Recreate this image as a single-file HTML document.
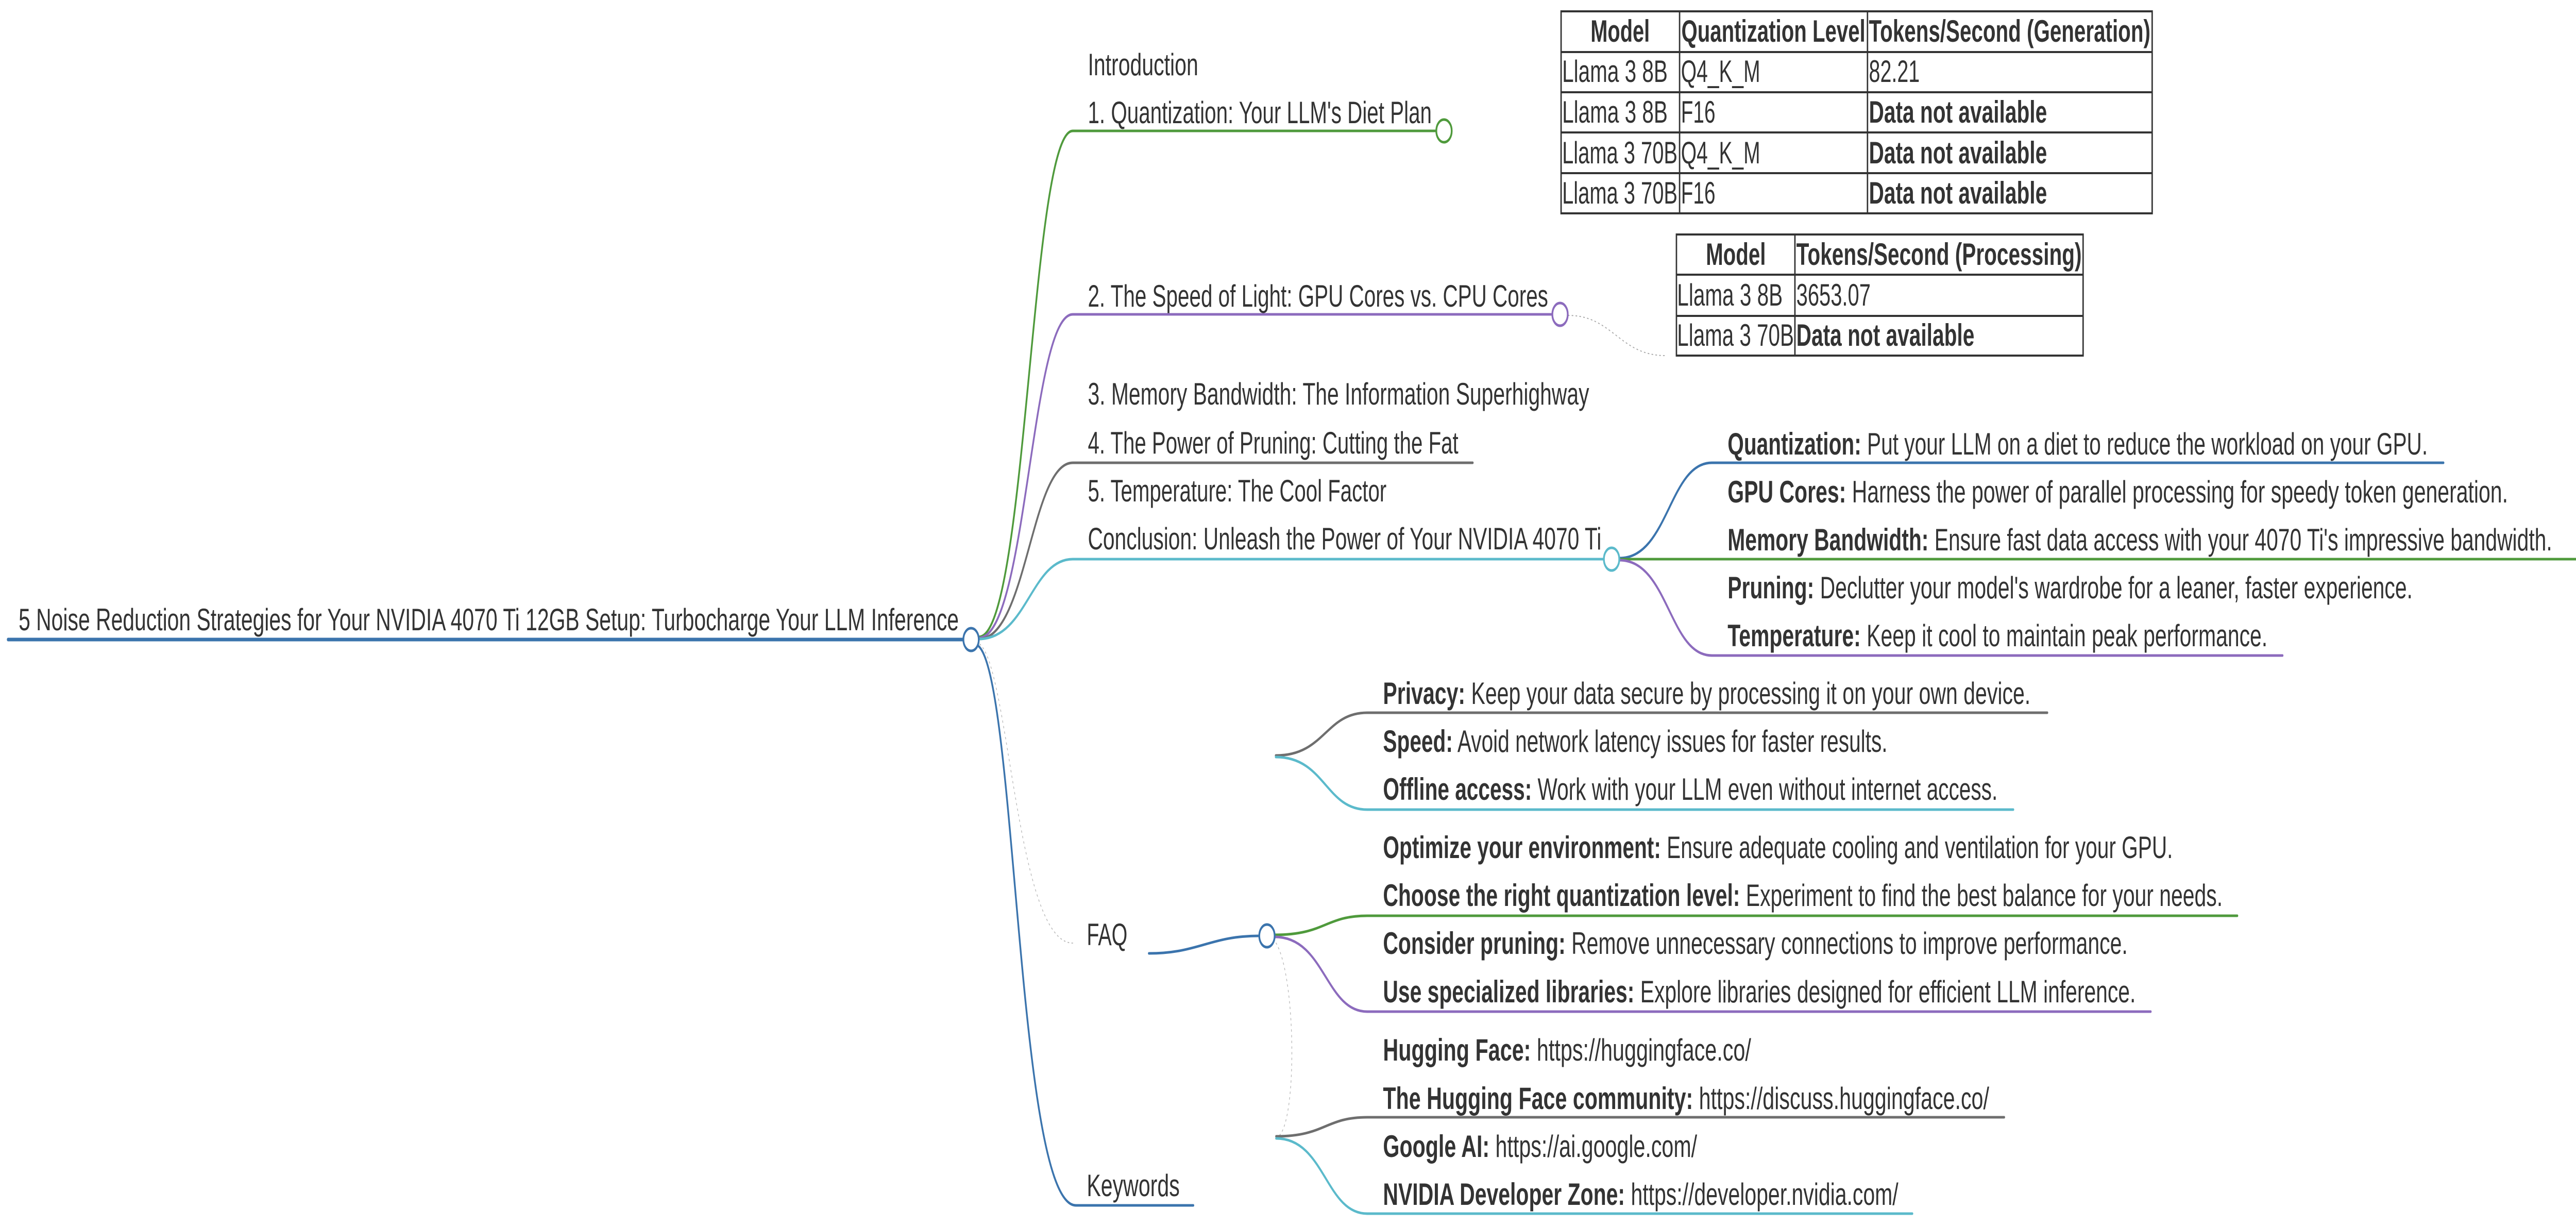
<!DOCTYPE html>
<html><head><meta charset="utf-8"><style>
html,body{margin:0;padding:0;background:#fff;width:100%;height:100%;overflow:hidden;}
svg{display:block;width:100vw;height:100vh;}
text{font-family:"Liberation Sans",Arial,sans-serif;fill:#333;font-size:60px;}
.b{font-weight:bold;}
</style></head><body>
<svg viewBox="0 0 7348 2379" preserveAspectRatio="none" xmlns="http://www.w3.org/2000/svg">
<g fill="none" stroke-linecap="round">
<line x1="23" y1="1241" x2="2748" y2="1241" stroke="#3b74ad" stroke-width="7"/>
<path d="M2792 1236 C2930 1236 2940 254 3060 254 L4097 254" stroke="#4f9a3c" stroke-width="5"/>
<path d="M2792 1238 C2930 1238 2940 610 3060 610 L4428 610" stroke="#8c6bbd" stroke-width="5"/>
<path d="M2792 1240 C2930 1240 2940 898 3060 898 L4201 898" stroke="#6e6e6e" stroke-width="5"/>
<path d="M2792 1240 C2930 1240 2940 1085 3060 1085 L4575 1085" stroke="#5bbacb" stroke-width="5"/>
<path d="M2788 1252 C2900 1300 2900 2339 3069 2339 L3404 2339" stroke="#3b74ad" stroke-width="5"/>
<path d="M3277 1850 C3420 1850 3450 1816 3592 1816" stroke="#3b74ad" stroke-width="5"/>
<path d="M4473 612 C4600 612 4620 690 4750 690" stroke="#aaa" stroke-width="2" stroke-dasharray="3 8"/>
<path d="M2795 1250 C2880 1300 2900 1830 3060 1830" stroke="#bbb" stroke-width="2" stroke-dasharray="3 8"/>
<path d="M3640 1830 C3700 1900 3700 2200 3640 2207" stroke="#bbb" stroke-width="2" stroke-dasharray="3 8"/>
<path d="M4619 1083 C4760 1083 4760 898 4883 898 L6970 898" stroke="#3b74ad" stroke-width="5"/>
<line x1="4619" y1="1085" x2="7348" y2="1085" stroke="#4f9a3c" stroke-width="5"/>
<path d="M4619 1087 C4760 1087 4760 1272 4883 1272 L6511 1272" stroke="#8c6bbd" stroke-width="5"/>
<path d="M3639 1466 C3780 1466 3780 1383 3900 1383 L5840 1383" stroke="#6e6e6e" stroke-width="5"/>
<path d="M3639 1469 C3780 1469 3780 1571 3900 1571 L5743 1571" stroke="#5bbacb" stroke-width="5"/>
<path d="M3636 1814 C3780 1814 3780 1777 3900 1777 L6382 1777" stroke="#4f9a3c" stroke-width="5"/>
<path d="M3636 1818 C3780 1818 3780 1963 3900 1963 L6135 1963" stroke="#8c6bbd" stroke-width="5"/>
<path d="M3640 2205 C3780 2205 3780 2168 3900 2168 L5717 2168" stroke="#6e6e6e" stroke-width="5"/>
<path d="M3640 2209 C3780 2209 3780 2355 3900 2355 L5455 2355" stroke="#5bbacb" stroke-width="5"/>
</g>
<g fill="#fff" stroke-width="5">
<circle cx="2770" cy="1241" r="22" stroke="#3b74ad"/>
<circle cx="4119" cy="254" r="22" stroke="#4f9a3c"/>
<circle cx="4450" cy="610" r="22" stroke="#8c6bbd"/>
<circle cx="4597" cy="1085" r="22" stroke="#5bbacb"/>
<circle cx="3614" cy="1816" r="22" stroke="#3b74ad"/>
</g>
<text x="53" y="1223" textLength="2682" lengthAdjust="spacingAndGlyphs">5 Noise Reduction Strategies for Your NVIDIA 4070 Ti 12GB Setup: Turbocharge Your LLM Inference</text>
<text x="3103" y="146" textLength="315" lengthAdjust="spacingAndGlyphs">Introduction</text>
<text x="3103" y="239" textLength="981" lengthAdjust="spacingAndGlyphs">1. Quantization: Your LLM's Diet Plan</text>
<text x="3103" y="595" textLength="1313" lengthAdjust="spacingAndGlyphs">2. The Speed of Light: GPU Cores vs. CPU Cores</text>
<text x="3103" y="785" textLength="1430" lengthAdjust="spacingAndGlyphs">3. Memory Bandwidth: The Information Superhighway</text>
<text x="3103" y="880" textLength="1057" lengthAdjust="spacingAndGlyphs">4. The Power of Pruning: Cutting the Fat</text>
<text x="3103" y="973" textLength="852" lengthAdjust="spacingAndGlyphs">5. Temperature: The Cool Factor</text>
<text x="3103" y="1066" textLength="1465" lengthAdjust="spacingAndGlyphs">Conclusion: Unleash the Power of Your NVIDIA 4070 Ti</text>
<text x="3100" y="1834" textLength="116" lengthAdjust="spacingAndGlyphs">FAQ</text>
<text x="3100" y="2321" textLength="265" lengthAdjust="spacingAndGlyphs">Keywords</text>
<text x="4928" y="882" textLength="1997" lengthAdjust="spacingAndGlyphs"><tspan class="b">Quantization:</tspan> Put your LLM on a diet to reduce the workload on your GPU.</text>
<text x="4928" y="975" textLength="2226" lengthAdjust="spacingAndGlyphs"><tspan class="b">GPU Cores:</tspan> Harness the power of parallel processing for speedy token generation.</text>
<text x="4928" y="1068" textLength="2352" lengthAdjust="spacingAndGlyphs"><tspan class="b">Memory Bandwidth:</tspan> Ensure fast data access with your 4070 Ti's impressive bandwidth.</text>
<text x="4928" y="1161" textLength="1954" lengthAdjust="spacingAndGlyphs"><tspan class="b">Pruning:</tspan> Declutter your model's wardrobe for a leaner, faster experience.</text>
<text x="4928" y="1254" textLength="1540" lengthAdjust="spacingAndGlyphs"><tspan class="b">Temperature:</tspan> Keep it cool to maintain peak performance.</text>
<text x="3945" y="1366" textLength="1847" lengthAdjust="spacingAndGlyphs"><tspan class="b">Privacy:</tspan> Keep your data secure by processing it on your own device.</text>
<text x="3945" y="1459" textLength="1439" lengthAdjust="spacingAndGlyphs"><tspan class="b">Speed:</tspan> Avoid network latency issues for faster results.</text>
<text x="3945" y="1552" textLength="1753" lengthAdjust="spacingAndGlyphs"><tspan class="b">Offline access:</tspan> Work with your LLM even without internet access.</text>
<text x="3945" y="1665" textLength="2253" lengthAdjust="spacingAndGlyphs"><tspan class="b">Optimize your environment:</tspan> Ensure adequate cooling and ventilation for your GPU.</text>
<text x="3945" y="1758" textLength="2395" lengthAdjust="spacingAndGlyphs"><tspan class="b">Choose the right quantization level:</tspan> Experiment to find the best balance for your needs.</text>
<text x="3945" y="1851" textLength="2124" lengthAdjust="spacingAndGlyphs"><tspan class="b">Consider pruning:</tspan> Remove unnecessary connections to improve performance.</text>
<text x="3945" y="1945" textLength="2147" lengthAdjust="spacingAndGlyphs"><tspan class="b">Use specialized libraries:</tspan> Explore libraries designed for efficient LLM inference.</text>
<text x="3945" y="2058" textLength="1050" lengthAdjust="spacingAndGlyphs"><tspan class="b">Hugging Face:</tspan> https://huggingface.co/</text>
<text x="3945" y="2152" textLength="1729" lengthAdjust="spacingAndGlyphs"><tspan class="b">The Hugging Face community:</tspan> https://discuss.huggingface.co/</text>
<text x="3945" y="2245" textLength="896" lengthAdjust="spacingAndGlyphs"><tspan class="b">Google AI:</tspan> https://ai.google.com/</text>
<text x="3945" y="2338" textLength="1470" lengthAdjust="spacingAndGlyphs"><tspan class="b">NVIDIA Developer Zone:</tspan> https://developer.nvidia.com/</text>
<g fill="none" stroke="#333" stroke-width="4">
<rect x="4453" y="22" width="1686" height="392"/>
<line x1="4453" y1="101" x2="6139" y2="101"/>
<line x1="4453" y1="179" x2="6139" y2="179"/>
<line x1="4453" y1="257" x2="6139" y2="257"/>
<line x1="4453" y1="336" x2="6139" y2="336"/>
<line x1="4791" y1="22" x2="4791" y2="414"/>
<line x1="5327" y1="22" x2="5327" y2="414"/>
<rect x="4782" y="455" width="1160" height="235"/>
<line x1="4782" y1="533" x2="5942" y2="533"/>
<line x1="4782" y1="613" x2="5942" y2="613"/>
<line x1="5120" y1="455" x2="5120" y2="690"/>
</g>
<text class="b" x="4537" y="81" textLength="169" lengthAdjust="spacingAndGlyphs">Model</text>
<text class="b" x="4796" y="81" textLength="525" lengthAdjust="spacingAndGlyphs">Quantization Level</text>
<text class="b" x="5331" y="81" textLength="803" lengthAdjust="spacingAndGlyphs">Tokens/Second (Generation)</text>
<text x="4456" y="159" textLength="301" lengthAdjust="spacingAndGlyphs">Llama 3 8B</text>
<text x="4795" y="159" textLength="226" lengthAdjust="spacingAndGlyphs">Q4_K_M</text>
<text x="5331" y="159" textLength="145" lengthAdjust="spacingAndGlyphs">82.21</text>
<text x="4456" y="238" textLength="301" lengthAdjust="spacingAndGlyphs">Llama 3 8B</text>
<text x="4795" y="238" textLength="98" lengthAdjust="spacingAndGlyphs">F16</text>
<text class="b" x="5331" y="238" textLength="508" lengthAdjust="spacingAndGlyphs">Data not available</text>
<text x="4456" y="317" textLength="329" lengthAdjust="spacingAndGlyphs">Llama 3 70B</text>
<text x="4795" y="317" textLength="226" lengthAdjust="spacingAndGlyphs">Q4_K_M</text>
<text class="b" x="5331" y="317" textLength="508" lengthAdjust="spacingAndGlyphs">Data not available</text>
<text x="4456" y="395" textLength="329" lengthAdjust="spacingAndGlyphs">Llama 3 70B</text>
<text x="4795" y="395" textLength="98" lengthAdjust="spacingAndGlyphs">F16</text>
<text class="b" x="5331" y="395" textLength="508" lengthAdjust="spacingAndGlyphs">Data not available</text>
<text class="b" x="4866" y="514" textLength="171" lengthAdjust="spacingAndGlyphs">Model</text>
<text class="b" x="5124" y="514" textLength="814" lengthAdjust="spacingAndGlyphs">Tokens/Second (Processing)</text>
<text x="4784" y="593" textLength="301" lengthAdjust="spacingAndGlyphs">Llama 3 8B</text>
<text x="5124" y="593" textLength="212" lengthAdjust="spacingAndGlyphs">3653.07</text>
<text x="4784" y="671" textLength="333" lengthAdjust="spacingAndGlyphs">Llama 3 70B</text>
<text class="b" x="5124" y="671" textLength="508" lengthAdjust="spacingAndGlyphs">Data not available</text>
</svg>
</body></html>
